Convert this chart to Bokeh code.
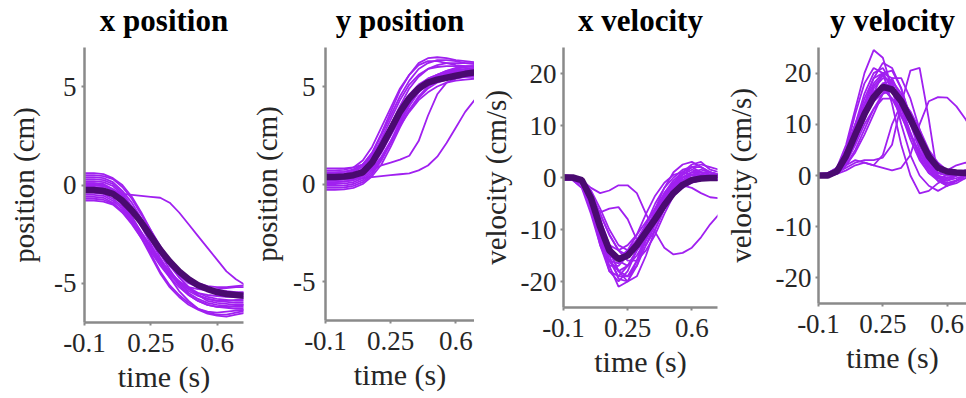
from bokeh.plotting import figure
from bokeh.layouts import row
from bokeh.models import Range1d, FixedTicker, Title
from bokeh.embed import file_html
from bokeh.resources import INLINE

# time samples (s)
T = [-0.1, -0.05, 0.0, 0.05, 0.1, 0.15, 0.2, 0.25, 0.3, 0.35, 0.4, 0.45, 0.5, 0.55, 0.6, 0.65, 0.7, 0.75]

X_TICKS = [-0.1, 0.25, 0.6]
X_TICK_LABELS = ["-0.1", "0.25", "0.6"]
POS_TICKS = [-5, 0, 5]
POS_TICK_LABELS = ["-5", "0", "5"]
VEL_TICKS = [-20, -10, 0, 10, 20]
VEL_TICK_LABELS = ["-20", "-10", "0", "10", "20"]

TITLES = ["x position", "y position", "x velocity", "y velocity"]
YLABELS = ["position (cm)", "position (cm)", "velocity (cm/s)", "velocity (cm/s)"]
XLABEL = "time (s)"

# ---- x position (cm) ----
XPOS_MEAN = [-0.25, -0.25, -0.3, -0.45, -0.8, -1.3, -1.9, -2.6, -3.3, -3.9, -4.4, -4.8, -5.1, -5.3, -5.45, -5.55, -5.6, -5.65]
XPOS_TRIALS = [
    [0.5, 0.5, 0.45, 0.3, -0.1, -0.7, -1.5, -2.3, -3.1, -3.8, -4.4, -4.9, -5.2, -5.35, -5.45, -5.5, -5.5, -5.5],
    [0.3, 0.3, 0.25, 0.05, -0.4, -1.1, -1.9, -2.8, -3.7, -4.5, -5.1, -5.6, -5.9, -6.1, -6.2, -6.25, -6.3, -6.3],
    [0.1, 0.1, 0.05, -0.2, -0.6, -1.3, -2.1, -3.0, -3.9, -4.7, -5.4, -5.9, -6.3, -6.5, -6.6, -6.6, -6.5, -6.4],
    [-0.1, -0.1, -0.15, -0.4, -0.9, -1.6, -2.4, -3.2, -3.9, -4.5, -4.9, -5.2, -5.3, -5.35, -5.3, -5.25, -5.2, -5.2],
    [-0.4, -0.4, -0.45, -0.7, -1.1, -1.7, -2.4, -3.1, -3.8, -4.4, -4.9, -5.3, -5.6, -5.8, -5.9, -5.95, -6.0, -6.0],
    [-0.6, -0.6, -0.65, -0.9, -1.4, -2.0, -2.7, -3.4, -4.1, -4.7, -5.2, -5.6, -5.9, -6.1, -6.2, -6.2, -6.15, -6.1],
    [-0.8, -0.8, -0.85, -1.0, -1.4, -1.9, -2.5, -3.2, -3.9, -4.5, -5.0, -5.4, -5.65, -5.8, -5.9, -5.9, -5.85, -5.8],
    [0.2, 0.2, 0.15, -0.05, -0.5, -1.2, -2.0, -2.8, -3.5, -4.1, -4.6, -5.0, -5.2, -5.3, -5.4, -5.4, -5.45, -5.45],
    [0.0, 0.0, -0.05, -0.3, -0.7, -1.3, -2.0, -2.7, -3.4, -4.1, -4.7, -5.2, -5.6, -5.9, -6.0, -6.05, -6.1, -6.1],
    [-0.3, -0.3, -0.3, -0.45, -0.8, -1.3, -1.9, -2.6, -3.3, -3.9, -4.4, -4.8, -5.1, -5.3, -5.4, -5.5, -5.55, -5.6],
    [0.4, 0.4, 0.35, 0.15, -0.3, -0.9, -1.7, -2.6, -3.5, -4.3, -5.0, -5.5, -5.8, -6.0, -6.1, -6.15, -6.2, -6.2],
    [-0.5, -0.5, -0.55, -0.8, -1.2, -1.8, -2.6, -3.5, -4.4, -5.1, -5.6, -6.0, -6.3, -6.45, -6.5, -6.45, -6.4, -6.35],
    [0.6, 0.6, 0.55, 0.35, 0.0, -0.6, -1.4, -2.3, -3.2, -4.0, -4.7, -5.2, -5.5, -5.7, -5.8, -5.85, -5.9, -5.9],
    [-0.2, -0.2, -0.25, -0.5, -1.0, -1.7, -2.5, -3.3, -4.0, -4.6, -5.0, -5.3, -5.5, -5.6, -5.65, -5.7, -5.7, -5.7],
    [0.0, 0.0, -0.05, -0.25, -0.6, -1.1, -1.8, -2.5, -3.2, -3.8, -4.3, -4.7, -5.0, -5.15, -5.2, -5.2, -5.15, -5.1],
    [-0.7, -0.7, -0.75, -0.95, -1.3, -1.9, -2.7, -3.6, -4.5, -5.2, -5.7, -6.1, -6.35, -6.55, -6.65, -6.7, -6.6, -6.5],
    [0.1, 0.1, 0.0, -0.25, -0.45, -0.5, -0.55, -0.6, -0.65, -0.9, -1.4, -2.0, -2.6, -3.2, -3.8, -4.4, -4.8, -5.1],
]

# ---- y position (cm) ----
YPOS_MEAN = [0.36, 0.36, 0.38, 0.45, 0.6, 1.1, 1.9, 2.8, 3.7, 4.4, 4.9, 5.2, 5.35, 5.45, 5.55, 5.65, 5.72, 5.78]
YPOS_TRIALS = [
    [0.7, 0.7, 0.72, 0.85, 1.2, 1.9, 2.9, 3.9, 4.9, 5.6, 6.1, 6.3, 6.3, 6.2, 6.1, 6.05, 6.0, 6.0],
    [0.5, 0.5, 0.52, 0.65, 1.0, 1.6, 2.5, 3.5, 4.5, 5.3, 5.9, 6.2, 6.35, 6.35, 6.3, 6.2, 6.15, 6.1],
    [0.2, 0.2, 0.22, 0.3, 0.5, 0.9, 1.6, 2.5, 3.4, 4.2, 4.8, 5.2, 5.4, 5.5, 5.55, 5.6, 5.6, 5.6],
    [0.0, 0.0, 0.02, 0.1, 0.3, 0.7, 1.3, 2.1, 3.0, 3.8, 4.4, 4.9, 5.2, 5.35, 5.45, 5.5, 5.55, 5.55],
    [-0.2, -0.2, -0.18, -0.1, 0.1, 0.5, 1.2, 2.1, 3.1, 4.0, 4.7, 5.2, 5.5, 5.65, 5.75, 5.8, 5.85, 5.85],
    [0.4, 0.4, 0.42, 0.5, 0.8, 1.3, 2.1, 3.0, 3.9, 4.6, 5.1, 5.4, 5.6, 5.75, 5.85, 5.9, 5.95, 6.0],
    [0.6, 0.6, 0.62, 0.75, 1.0, 1.5, 2.2, 3.0, 3.8, 4.5, 5.0, 5.3, 5.5, 5.6, 5.7, 5.75, 5.8, 5.8],
    [0.3, 0.3, 0.32, 0.4, 0.7, 1.2, 2.0, 3.0, 4.0, 4.9, 5.5, 5.9, 6.1, 6.2, 6.2, 6.2, 6.2, 6.2],
    [0.1, 0.1, 0.12, 0.2, 0.4, 0.8, 1.4, 2.2, 3.0, 3.7, 4.3, 4.7, 5.0, 5.2, 5.3, 5.35, 5.4, 5.4],
    [-0.3, -0.3, -0.28, -0.2, 0.0, 0.4, 1.0, 1.9, 2.9, 3.8, 4.5, 5.0, 5.3, 5.5, 5.6, 5.65, 5.7, 5.7],
    [0.5, 0.5, 0.52, 0.6, 0.9, 1.4, 2.3, 3.3, 4.3, 5.1, 5.6, 5.9, 6.0, 6.05, 6.05, 6.05, 6.05, 6.05],
    [0.8, 0.8, 0.8, 0.85, 1.0, 1.4, 2.0, 2.8, 3.6, 4.3, 4.9, 5.3, 5.6, 5.8, 5.95, 6.0, 6.05, 6.05],
    [0.6, 0.6, 0.62, 0.7, 1.0, 1.6, 2.6, 3.7, 4.8, 5.6, 6.2, 6.45, 6.5, 6.45, 6.35, 6.3, 6.25, 6.2],
    [0.1, 0.1, 0.12, 0.2, 0.5, 1.0, 1.8, 2.7, 3.6, 4.4, 5.0, 5.4, 5.6, 5.7, 5.8, 5.85, 5.9, 5.9],
    [-0.1, -0.1, -0.08, 0.0, 0.2, 0.6, 1.3, 2.2, 3.2, 4.1, 4.8, 5.3, 5.6, 5.8, 5.9, 6.0, 6.05, 6.1],
    [0.4, 0.4, 0.42, 0.5, 0.7, 1.1, 1.7, 2.5, 3.3, 4.1, 4.7, 5.1, 5.35, 5.5, 5.6, 5.65, 5.7, 5.75],
    [0.3, 0.3, 0.32, 0.4, 0.55, 0.75, 0.95, 1.1, 1.25, 1.45, 2.2, 3.5, 4.6, 5.2, 5.4, 5.5, 5.5, 5.5],
    [0.2, 0.2, 0.22, 0.25, 0.3, 0.35, 0.4, 0.45, 0.5, 0.55, 0.7, 0.95, 1.4, 2.1, 2.9, 3.7, 4.3, 4.7],
]

# ---- x velocity (cm/s) ----
XVEL_MEAN = [0, 0, -0.5, -4, -9.5, -14, -15.7, -15, -13, -10.5, -8, -5.3, -3, -1.4, -0.5, -0.2, -0.1, -0.1]
XVEL_TRIALS = [
    [0, 0, -1, -6, -13, -18, -20, -18, -14, -9, -5, -2, 0, 1.5, 2, 1, 0.5, 0.5],
    [0, 0, -0.5, -4, -10, -16, -19, -19, -16, -12, -8, -4, -1, 1, 2.5, 3, 1.5, 1],
    [0.3, 0.2, -0.8, -5, -11, -15, -16, -14, -11, -7, -3.5, -1, 0.5, 1, 0.5, 0, 0, -0.5],
    [-0.3, -0.5, -2, -7, -13, -17, -17, -15, -12, -9, -6, -3, -1, 0, 0.5, 0.5, 0, 0],
    [0, 0, -0.3, -3, -8, -13, -16, -17, -15, -12, -8, -5, -2, 0, 1, 1, 0.5, 0],
    [0.5, 0.3, -0.5, -3.5, -9, -14, -18, -20, -19, -15, -10, -6, -3, -1, 0, 0.5, 1, 0.5],
    [0, -0.2, -1.5, -5, -10, -13, -14, -13, -11, -8.5, -6, -3.5, -1.5, -0.5, 0, 0, -0.5, -0.5],
    [0, 0, -0.5, -4, -11, -17, -21, -20, -16, -11, -6, -2, 1, 2.5, 3, 2, 1, 0.5],
    [-0.5, -0.5, -1, -3, -7, -11, -14, -15, -14, -12, -9, -6, -3.5, -2, -1, -0.5, 0, 0],
    [0.2, 0, -1, -6, -12, -16, -16.5, -15, -12.5, -10, -7, -4, -1.5, 0.5, 1.5, 1, 0.5, 0.5],
    [0, 0, -0.5, -2.5, -6, -10, -13, -14, -13, -11, -8, -5, -2.5, -0.5, 0.5, 1, 1, 0.5],
    [0, -0.3, -1, -5, -12, -18, -19, -17, -14, -10, -6.5, -3.5, -1, 0.5, 2, 2.5, 2, 1.5],
    [0, 0, -0.8, -5, -11, -16, -18, -17, -14, -10.5, -7, -4, -1.5, 0, 1, 1.5, 1, 0.5],
    [0.2, 0, -0.5, -3, -8, -14, -18, -19, -17, -13, -9, -5, -2, 0, 1, 0.5, 0, 0],
    [0, -0.3, -1.2, -6, -12, -15, -15.5, -14, -12, -9.5, -7, -4.5, -2, -0.5, 0.5, 1, 0.5, 0],
    [0, 0, -0.3, -3, -9, -15, -19.5, -20, -17, -12, -7, -3, -0.5, 1, 2, 2, 1, 0.5],
    [0, 0, -0.5, -2, -3, -2.5, -1.5, -1.5, -3, -7, -10.5, -13.5, -14.8, -14.5, -13.5, -11.5, -9, -7],
    [0, -0.5, -2, -5, -6.7, -6, -5.7, -8, -12, -13, -10, -6, -3, -1.5, -1, -0.5, -0.5, -0.5],
    [0, 0, -0.5, -3, -7, -11, -14, -16, -16, -14, -11, -7, -3.5, -1.5, -2, -3, -3.8, -4],
]

# ---- y velocity (cm/s) ----
YVEL_MEAN = [0, 0, 0.8, 3.8, 8, 12, 15.3, 17.3, 16.8, 14.5, 11, 7.3, 3.7, 1.5, 0.8, 0.6, 0.5, 0.5]
YVEL_TRIALS = [
    [0, 0, 1.5, 6, 13, 20, 24.5, 23, 17, 10, 4, 0, -2, -3, -2, -1, 0, 0],
    [0, 0.2, 1, 4, 9, 14, 18, 20, 19, 15, 10, 5, 1.5, -1, -2, -1, 0, 0.5],
    [0, 0, 0.5, 3, 7, 11, 15, 18, 18.5, 16, 12, 7, 3, 0, -1, -0.5, 0, 0.5],
    [0.3, 0.3, 1.5, 5, 10, 15, 19, 20, 17, 12, 7, 3, 0.5, -0.5, 0, 0.5, 1, 1],
    [0, 0, 0.5, 2.5, 6, 10, 13, 15, 15, 13, 10, 6.5, 3.5, 1.5, 0.5, 0.5, 1, 1],
    [0, 0, 0.8, 4, 9, 14, 19, 22, 21, 17, 11, 6, 2, -0.5, -1.5, -1, 0, 0.5],
    [0, -0.2, 0.3, 2, 5, 9, 13, 16, 17, 15, 12, 8, 4.5, 2, 1, 0.5, 0.5, 0.5],
    [0.2, 0.2, 1, 4, 8.5, 13, 16, 17, 15, 11.5, 8, 4.5, 2, 0.5, 0, 0, 0.5, 0.5],
    [0, 0, 0.5, 3, 8, 13, 17.5, 19.5, 18, 13.5, 8.5, 4, 1, -1, -1.5, -1, -0.5, 0],
    [0, 0, 0.5, 3.5, 8, 12, 14.5, 16, 16.5, 15, 12.5, 9, 5, 2.5, 1, 0.5, 0.5, 0.5],
    [0.3, 0.5, 1.5, 5, 10, 14, 16.5, 17, 15, 12, 8, 4, 1.5, 0.5, 1, 2, 2.5, 2],
    [0, 0, 0.5, 2, 4.5, 8, 12, 16, 19, 19, 15, 9, 3.5, 0, -2, -1.5, -0.5, 0],
    [0, 0, 1, 5, 12, 18, 21, 20, 14, 6, 0, -3.5, -3, -1.5, -0.5, 0, 0, 0],
    [0, 0, 1, 4.5, 10, 16, 20, 21, 18, 13, 8, 3.5, 0.5, -1, -1, 0, 0.5, 0.5],
    [0, 0.2, 0.8, 3.5, 8, 13, 17, 19, 18.5, 15.5, 11, 6, 2, 0, -0.5, 0, 0.5, 1],
    [0.2, 0.2, 0.8, 3, 7, 11.5, 15.5, 18, 17.5, 14.5, 10.5, 6, 2.5, 0.5, 0, 0.5, 1, 1],
    [0, 0, 0.5, 2.5, 6.5, 11, 16, 20, 20.5, 17, 11.5, 6, 2, -1, -2, -1, 0, 0],
    [0, 0, 0.5, 1.5, 2.5, 3, 3, 3.5, 6, 14, 20.5, 21, 11, -0.5, -1, 0, 0.5, 0.5],
    [0, 0, 0.3, 1, 2, 2.5, 2, 1.5, 1, 1.5, 4, 10, 14.5, 15.3, 15.2, 13.5, 11, 8],
    [0, 0, 0.5, 2, 3, 2.5, 2, 4, 10, 14, 12, 7, 3, 0.5, 0, 0, 0.5, 0.5],
]

TRIAL_COLOR = "#A020F0"
MEAN_COLOR = "#4A0A70"
AXIS_COLOR = "#8a8a8a"
TEXT_COLOR = "#262626"
FONT = "Liberation Serif"


def make_panel(title, ylabel, trials, mean, y_lo, y_hi, yticks, yticklabels, x_hi,
               width, height, bl, br, ytick_standoff, ylabel_standoff):
    p = figure(width=width, height=height, output_backend="svg", toolbar_location=None,
               title=None,
               x_range=Range1d(-0.1, x_hi), y_range=Range1d(y_lo, y_hi),
               min_border_left=bl, min_border_right=br,
               min_border_top=47, min_border_bottom=76)
    for tr in trials:
        p.line(T, tr, line_color=TRIAL_COLOR, line_width=1.8)
    p.line(T, mean, line_color=MEAN_COLOR, line_width=6.5)

    p.outline_line_color = None
    p.xgrid.visible = False
    p.ygrid.visible = False
    p.background_fill_color = "white"
    p.border_fill_color = "white"

    # small blank spacer between frame and title, then the title itself
    p.add_layout(Title(text=" ", text_font=FONT, text_font_size="6px", standoff=2), "above")
    p.add_layout(Title(text=title, align="center", text_font=FONT, text_font_size="31px",
                       text_font_style="bold", text_color="black", standoff=0), "above")

    p.xaxis.ticker = FixedTicker(ticks=X_TICKS)
    p.xaxis.major_label_overrides = {v: s for v, s in zip(X_TICKS, X_TICK_LABELS)}
    p.xaxis.axis_label = XLABEL
    p.yaxis.ticker = FixedTicker(ticks=yticks)
    p.yaxis.major_label_overrides = {v: s for v, s in zip(yticks, yticklabels)}
    p.yaxis.axis_label = ylabel

    for ax in (p.xaxis[0], p.yaxis[0]):
        ax.axis_line_color = AXIS_COLOR
        ax.axis_line_width = 2.5
        ax.major_tick_line_color = AXIS_COLOR
        ax.major_tick_line_width = 2
        ax.major_tick_out = 3
        ax.major_tick_in = 0
        ax.minor_tick_line_color = None
        ax.major_label_text_font = FONT
        ax.major_label_text_font_size = "27px"
        ax.major_label_text_color = TEXT_COLOR
        ax.axis_label_text_font = FONT
        ax.axis_label_text_font_style = "normal"
        ax.axis_label_text_color = TEXT_COLOR
    p.xaxis.major_label_standoff = 8
    p.xaxis.axis_label_standoff = 5
    p.xaxis.axis_label_text_font_size = "30px"
    p.yaxis.major_label_standoff = ytick_standoff
    p.yaxis.axis_label_standoff = ylabel_standoff
    p.yaxis.axis_label_text_font_size = "29px"
    return p


p1 = make_panel(TITLES[0], YLABELS[0], XPOS_TRIALS, XPOS_MEAN, -7, 7, POS_TICKS, POS_TICK_LABELS,
                0.74, 245, 398, 84, 2, 5, 11)
p2 = make_panel(TITLES[1], YLABELS[1], YPOS_TRIALS, YPOS_MEAN, -7, 7, POS_TICKS, POS_TICK_LABELS,
                0.70, 229, 396, 80, 0, 7, 7)
p3 = make_panel(TITLES[2], YLABELS[2], XVEL_TRIALS, XVEL_MEAN, -25, 25, VEL_TICKS, VEL_TICK_LABELS,
                0.74, 245, 383, 89, 2, 4, 6)
p4 = make_panel(TITLES[3], YLABELS[3], YVEL_TRIALS, YVEL_MEAN, -25, 25, VEL_TICKS, VEL_TICK_LABELS,
                0.705, 247, 379, 99, 0, 4, 16)

layout = row(p1, p2, p3, p4, spacing=0)
open("out.html", "w").write(file_html(layout, INLINE))
